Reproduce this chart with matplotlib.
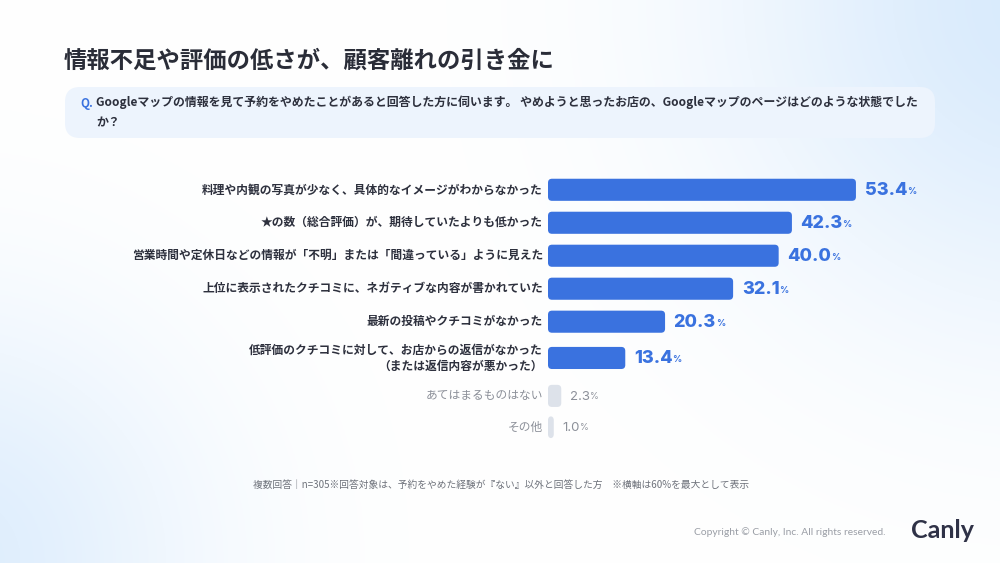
import numpy as np
import matplotlib

matplotlib.use("Agg")
import matplotlib.pyplot as plt
from matplotlib.patches import FancyBboxPatch

plt.rcParams["font.family"] = ["Noto Sans CJK JP", "DejaVu Sans"]

categories = [
    "料理や内観の写真が少なく、具体的なイメージがわからなかった",
    "★の数（総合評価）が、期待していたよりも低かった",
    "営業時間や定休日などの情報が「不明」または「間違っている」ように見えた",
    "上位に表示されたクチコミに、ネガティブな内容が書かれていた",
    "最新の投稿やクチコミがなかった",
    "低評価のクチコミに対して、お店からの返信がなかった\n（または返信内容が悪かった）",
    "あてはまるものはない",
    "その他",
]
values = [53.4, 42.3, 40.0, 32.1, 20.3, 13.4, 2.3, 1.0]
highlighted = [True, True, True, True, True, True, False, False]

titleText = "情報不足や評価の低さが、顧客離れの引き金に"
questionText = ("Googleマップの情報を見て予約をやめたことがあると回答した方に伺います。 "
                "やめようと思ったお店の、Googleマップのページはどのような状態でした\nか？")
footnoteText = "複数回答｜n=305※回答対象は、予約をやめた経験が『ない』以外と回答した方　※横軸は60%を最大として表示"
copyrightText = "Copyright © Canly, Inc. All rights reserved."

# row centres in units of one row pitch (two-line row gets a bit more room)
rowPos = [0, 1, 2, 3, 4, 5.1, 6.25, 7.2]

BLUE = "#3a72df"
GRAY_BAR = "#dde2ea"
DARK = "#2d303d"
GRAY_TEXT = "#8c9099"

W, H = 1000, 563
fig = plt.figure(figsize=(W / 100, H / 100), dpi=100)

# soft blue glow background
bgAxis = fig.add_axes([0, 0, 1, 1])
gx, gy = np.meshgrid(np.linspace(0, 1, 400), np.linspace(0, 1, 225))
aspect = H / W
glowTop = np.exp(-(((gx - 1.05) ** 2) + ((gy - 0.0) * aspect) ** 2) / 0.1)
glowBottom = np.exp(-(((gx + 0.05) ** 2) + ((gy - 1.0) * aspect) ** 2) / 0.06)
glow = np.clip(glowTop * 1.0 + glowBottom * 0.85, 0, 1)
base = np.array([1.0, 1.0, 1.0])
tint = np.array([0.85, 0.92, 0.99])
img = base[None, None, :] * (1 - glow[..., None]) + tint[None, None, :] * glow[..., None]
bgAxis.imshow(img, extent=[0, 1, 0, 1], aspect="auto", origin="upper")
bgAxis.set_xlim(0, 1)
bgAxis.set_ylim(0, 1)
bgAxis.axis("off")


def px(x, y):
    return x / W, 1 - y / H


# title
fig.text(*px(64, 61), titleText, fontsize=16.8, fontweight="bold", color="#2a2d38",
         ha="left", va="center")

# question box
qx0, qy0 = px(65, 138)
qx1, qy1 = px(935, 87)
questionBox = FancyBboxPatch((qx0, qy0), qx1 - qx0, qy1 - qy0,
                             boxstyle="round,pad=0,rounding_size=0.015",
                             mutation_aspect=W / H,
                             transform=fig.transFigure, facecolor="#edf4fd",
                             edgecolor="none", zorder=1)
fig.add_artist(questionBox)
fig.text(*px(80, 103), "Q.", fontsize=8.4, fontweight="bold", color=BLUE, ha="left", va="center")
fig.text(*px(96, 95), questionText, fontsize=8.6, fontweight="bold", color=DARK,
         ha="left", va="top", linespacing=1.75)

# bar chart
left, right = px(548, 0)[0], px(894, 0)[0]
bottom, top = 1 - 447 / H, 1 - 170 / H
ax = fig.add_axes([left, bottom, right - left, top - bottom])
ax.set_xlim(0, 60)
ax.set_ylim(7.8, -0.6)
ax.axis("off")

barHeight = 0.67
bars = ax.barh(rowPos, values, height=barHeight, color="none")
xScale = (894 - 548) / 60.0
yScale = 33.0
for bar, isMain in zip(bars, highlighted):
    bx, by = bar.get_x(), bar.get_y()
    bw, bh = bar.get_width(), bar.get_height()
    bar.set_visible(False)
    radius = 4.0 / xScale
    ax.add_patch(FancyBboxPatch((bx, by), bw, bh,
                                boxstyle=f"round,pad=0,rounding_size={radius}",
                                mutation_aspect=xScale / yScale,
                                facecolor=BLUE if isMain else GRAY_BAR,
                                edgecolor="none"))

for yPos, value, label, isMain in zip(rowPos, values, categories, highlighted):
    ax.text(-0.9, yPos, label, ha="right", va="center", fontsize=8.45,
            fontweight="bold" if isMain else "normal",
            color=DARK if isMain else GRAY_TEXT, linespacing=1.3)
    numText = ax.text(value + 1.5, yPos + 0.03, f"{value:.1f}", ha="left", va="center",
                      fontsize=13 if isMain else 9.5,
                      fontweight="heavy" if isMain else "normal",
                      family=["Inter", "DejaVu Sans"],
                      color=BLUE if isMain else GRAY_TEXT)
    ax.annotate("%", xy=(1, 0.18), xycoords=numText, xytext=(-0.2, 0),
                textcoords="offset points", ha="left", va="bottom",
                fontsize=6.5, fontweight="bold" if isMain else "normal",
                family=["Inter", "DejaVu Sans"],
                color=BLUE if isMain else GRAY_TEXT)

# footnote and footer
fig.text(*px(253, 485), footnoteText, fontsize=7.0, color="#6d717a", ha="left", va="center")
fig.text(*px(886, 532), copyrightText, fontsize=7.4, color="#9a9ea6", ha="right",
         va="center", family=["Lato", "DejaVu Sans"])
fig.text(*px(911, 531), "Canly", fontsize=18, fontweight="bold", color="#2f3247",
         ha="left", va="center", family=["Lato", "DejaVu Sans"])

fig.savefig("out.png", dpi=100)
